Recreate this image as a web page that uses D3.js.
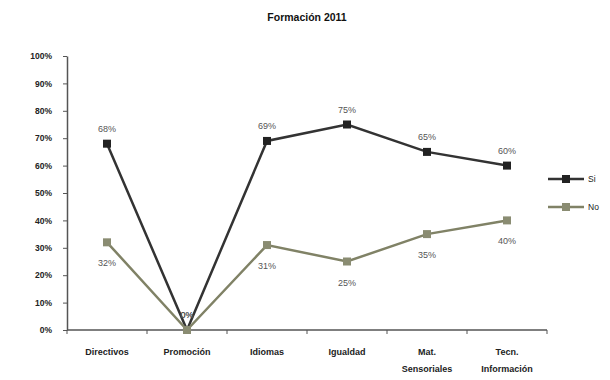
<!DOCTYPE html>
<html><head><meta charset="utf-8">
<script src="https://cdn.jsdelivr.net/npm/d3@7"></script>
<style>body{margin:0;background:#fff}svg{display:block}</style>
</head><body><svg id="c" width="610" height="380"></svg>
<script>
const categories = [["Directivos"],["Promoción"],["Idiomas"],["Igualdad"],["Mat.","Sensoriales"],["Tecn.","Información"]];
const siValues = [0.68, 0, 0.69, 0.75, 0.65, 0.60];
const noValues = [0.32, 0, 0.31, 0.25, 0.35, 0.40];
const seriesNames = ["Si", "No"];
const yTicks = [0,0.1,0.2,0.3,0.4,0.5,0.6,0.7,0.8,0.9,1];
const title = "Formación 2011";

const svg = d3.select("#c");
const font = "'Liberation Sans', Arial, sans-serif";
const x = d3.scaleBand().domain(d3.range(categories.length)).range([67, 547]);
const y = d3.scaleLinear().domain([0,1]).range([330, 56]);

svg.append("text").attr("x", 307).attr("y", 21).attr("text-anchor","middle")
  .attr("font-family", font).attr("font-size", 10.5).attr("font-weight","bold").attr("fill","#111").text(title);

// y axis
const ya = svg.append("g").attr("transform","translate(67,0)")
  .call(d3.axisLeft(y).tickValues(yTicks).tickFormat(d3.format(".0%")).tickSize(4).tickPadding(11).tickSizeOuter(0));
ya.select(".domain").attr("stroke","#555").attr("stroke-width",1.5);
ya.selectAll(".tick line").attr("stroke","#555");
ya.selectAll("text").attr("font-family", font).attr("font-size", 8.5).attr("font-weight","bold").attr("fill","#222");

// x axis
const xa = svg.append("g").attr("transform","translate(0,330)");
xa.append("line").attr("x1",67).attr("x2",547).attr("y1",0).attr("y2",0).attr("stroke","#555").attr("stroke-width",1.5);
d3.range(categories.length+1).forEach(i=>{
  const xx = i < categories.length ? x(i) : x.range()[1];
  xa.append("line").attr("x1",xx).attr("x2",xx).attr("y1",0).attr("y2",4).attr("stroke","#555");
});
categories.forEach((c,i)=>{
  const t = xa.append("text").attr("x", x(i)+x.bandwidth()/2).attr("y", 25)
    .attr("text-anchor","middle").attr("font-family", font).attr("font-size", 9).attr("font-weight","bold").attr("fill","#222");
  c.forEach((line,j)=> t.append("tspan").attr("x", x(i)+x.bandwidth()/2).attr("dy", j===0?0:17).text(line));
});

const cx = i => x(i) + x.bandwidth()/2;
const line = d3.line().x((d,i)=>cx(i)).y(d=>y(d));
const colors = ["#333333", "#808266"];
const markerCol = ["#222222", "#8a8c72"];
const data = [siValues, noValues];

data.forEach((vals, s)=>{
  svg.append("path").datum(vals).attr("d", line).attr("fill","none")
    .attr("stroke", colors[s]).attr("stroke-width", 2.5);
  svg.selectAll(".m"+s).data(vals).enter().append("rect")
    .attr("x",(d,i)=>cx(i)-4).attr("y",d=>y(d)-4).attr("width",8).attr("height",8)
    .attr("fill", markerCol[s]);
});
data.forEach((vals, s)=>{
  svg.selectAll(".l"+s).data(vals).enter().append("text")
    .attr("x",(d,i)=>cx(i)).attr("y",d=> (s===0 || d===0) ? y(d)-12 : y(d)+24)
    .attr("text-anchor","middle").attr("font-family", font).attr("font-size", 9).attr("fill","#555")
    .text(d=>d3.format(".0%")(d));
});

// legend
seriesNames.forEach((n,s)=>{
  const ly = 179 + s*28;
  svg.append("line").attr("x1",548).attr("x2",584).attr("y1",ly).attr("y2",ly).attr("stroke",colors[s]).attr("stroke-width",2.5);
  svg.append("rect").attr("x",562).attr("y",ly-4).attr("width",8).attr("height",8).attr("fill",markerCol[s]);
  svg.append("text").attr("x",588).attr("y",ly+3).attr("font-family",font).attr("font-size",8.5).attr("fill","#222").text(n);
});
</script></body></html>
